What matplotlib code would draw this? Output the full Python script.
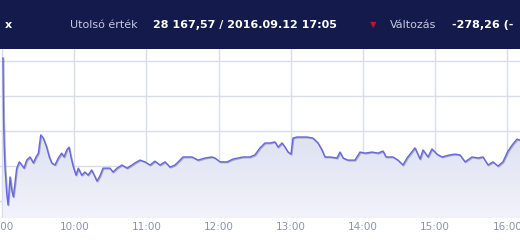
import numpy as np
import matplotlib
matplotlib.use("Agg")
import matplotlib.pyplot as plt
import matplotlib.patheffects as pe
from matplotlib.patches import Rectangle

# minutes after 9:00 and index value
minutes = [0.8, 1.3, 1.9, 2.5, 3.9, 5.0, 6.7, 8.1, 9.4, 10.8, 12.2, 14.4, 16.4, 18.3,
           20.5, 23.3, 26.0, 28.3, 30.2, 32.2, 34.3, 37.1, 39.3, 41.3, 44.0, 46.8,
           49.6, 51.5, 53.8, 55.7, 57.3, 59.3, 61.5, 63.4, 66.2, 69.0, 71.5, 74.5,
           77.3, 78.9, 81.4, 83.9, 89.7, 92.2, 95.6, 99.7, 103.9, 108.0, 110.5,
           114.7, 118.8, 123.0, 127.1, 131.3, 135.5, 139.6, 143.8, 147.9, 150.4,
           157.9, 162.9, 168.7, 174.5, 177.0, 181.2, 187.0, 192.0, 200.3, 206.1,
           210.2, 214.4, 218.6, 222.7, 226.9, 229.4, 232.7, 235.2, 237.7, 240.2,
           241.8, 245.1, 253.5, 258.4, 262.6, 265.9, 268.4, 272.6, 278.4, 280.9,
           283.4, 287.5, 293.3, 297.5, 301.7, 307.5, 312.5, 316.6, 319.1, 324.9,
           329.1, 333.2, 336.6, 343.2, 347.4, 349.9, 354.0, 357.3, 361.5, 365.6,
           372.3, 376.4, 380.6, 384.8, 390.6, 395.6, 399.7, 403.9, 408.0, 412.2,
           416.3, 420.5, 424.6, 428.0, 430.5, 436.0]
values = [28408, 28231, 28153, 28096, 28022, 27988, 28068, 28031, 28011, 28051,
          28093, 28111, 28102, 28093, 28116, 28125, 28108, 28125, 28136, 28188,
          28179, 28153, 28125, 28108, 28102, 28122, 28136, 28125, 28145, 28153,
          28125, 28096, 28073, 28093, 28073, 28082, 28073, 28088, 28068, 28056,
          28071, 28093, 28093, 28082, 28093, 28102, 28093, 28102, 28108, 28116,
          28111, 28102, 28113, 28102, 28111, 28096, 28102, 28116, 28125, 28125,
          28116, 28122, 28125, 28122, 28111, 28111, 28119, 28125, 28125, 28131,
          28151, 28165, 28165, 28168, 28153, 28165, 28153, 28139, 28133, 28179,
          28182, 28182, 28179, 28165, 28145, 28125, 28125, 28122, 28139, 28122,
          28116, 28116, 28139, 28136, 28139, 28136, 28142, 28125, 28125, 28116,
          28102, 28122, 28151, 28119, 28145, 28125, 28148, 28133, 28125, 28131,
          28133, 28131, 28111, 28125, 28122, 28125, 28102, 28111, 28099, 28111,
          28142, 28162, 28176, 28173, 28173]

tick_hours = [9, 10, 11, 12, 13, 14, 15, 16]
tick_labels = ["9:00", "10:00", "11:00", "12:00", "13:00", "14:00", "15:00", "16:00"]
grid_values = [28000, 28100, 28200, 28300, 28400]

header_items = [
    ("x", 5, "white", "bold"),
    ("Utolsó érték", 70, "#c6c9dd", "normal"),
    ("28 167,57 / 2016.09.12 17:05", 153, "white", "bold"),
    ("Változás", 390, "#c6c9dd", "normal"),
    ("-278,26 (-", 452, "white", "bold"),
]

W, H = 520, 245
X0, X1 = -1.66, 430.5
Y0, Y1 = 27950.6, 28433.4

fig = plt.figure(figsize=(W / 100, H / 100), dpi=100)
fig.patch.set_facecolor("white")

# header band
fig.patches.append(Rectangle((0, 1 - 49 / H), 1, 49 / H, transform=fig.transFigure,
                             facecolor="#141a4b", edgecolor="none", zorder=0))
for txt, px, col, weight in header_items:
    fig.text(px / W, 1 - 25 / H, txt, color=col, fontsize=8, fontweight=weight,
             ha="left", va="center")
fig.text(373 / W, 1 - 25 / H, "▼", color="#c3122c", fontsize=6, ha="center", va="center")

ax = fig.add_axes([0, 27 / H, 1, 169 / H])
x = np.array(minutes)
y = np.array(values)

# gradient fill under the line
poly = ax.fill_between(x, y, Y0, color="none", lw=0)
grad = np.linspace(0, 1, 256).reshape(-1, 1)
cmap = matplotlib.colors.LinearSegmentedColormap.from_list("g", ["#f2f3fa", "#dce0f1"])
img = ax.imshow(grad, extent=[X0, X1 + 10, Y0, 28200], origin="lower",
                aspect="auto", cmap=cmap, zorder=1)
img.set_clip_path(poly.get_paths()[0], transform=ax.transData)

ax.plot(x, y, color="#6767e0", lw=1.0, zorder=3,
        path_effects=[pe.SimpleLineShadow(offset=(0.6, -0.6), shadow_color="#808090", alpha=0.6),
                      pe.Normal()])

ax.set_xticks([(h - 9) * 60 for h in tick_hours])
ax.set_xticklabels(tick_labels)
ax.set_yticks(grid_values)
ax.grid(True, color="#d9dde9", lw=1, zorder=0)
ax.set_axisbelow(True)
ax.tick_params(axis="x", length=0, pad=3, labelsize=7.5, labelcolor="#8e93ad")
ax.tick_params(axis="y", length=0, labelleft=False)
for s in ax.spines.values():
    s.set_visible(False)

ax.set_xlim(X0, X1)
ax.set_ylim(Y0, Y1)

fig.savefig("out.png", dpi=100)
